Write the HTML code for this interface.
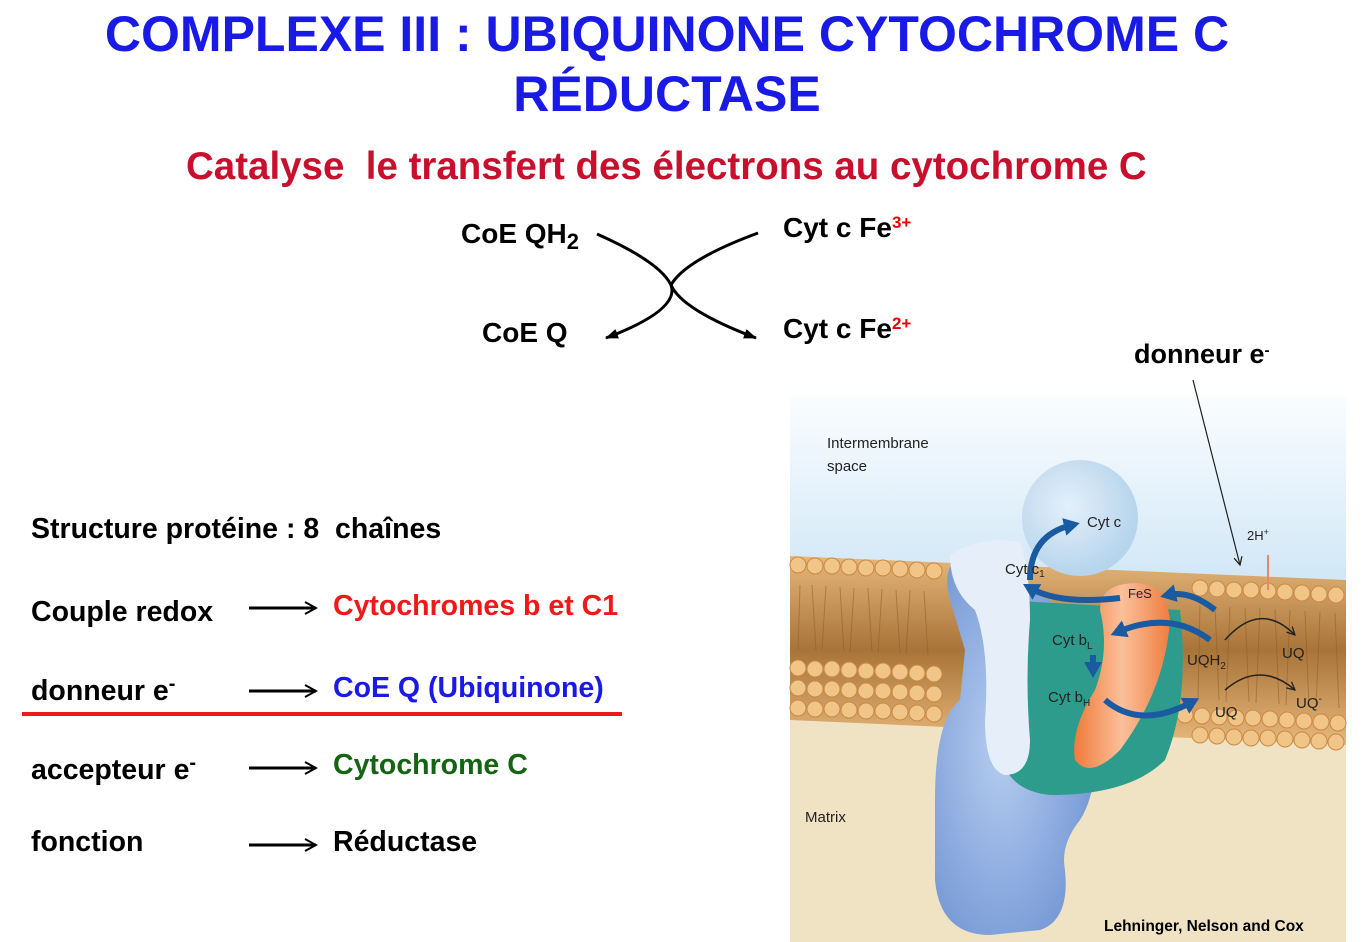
<!DOCTYPE html>
<html><head><meta charset="utf-8"><style>
body{margin:0;width:1362px;height:942px;background:#fff;position:relative;overflow:hidden;font-family:"Liberation Sans",Arial,sans-serif;font-weight:bold}
.a{position:absolute;white-space:nowrap}
</style></head><body>
<div class="a" style="left:0;width:1334px;text-align:center;top:4px;font-size:50px;color:#1a1ae6;line-height:60px">COMPLEXE III : UBIQUINONE CYTOCHROME C<br>RÉDUCTASE</div>
<div class="a" style="left:186px;top:145px;font-size:38.5px;color:#c8102e">Catalyse&nbsp; le transfert des électrons au cytochrome C</div>
<div class="a" style="left:461px;top:218px;font-size:28px">CoE QH<sub style="font-size:22px;vertical-align:-6px">2</sub></div>
<div class="a" style="left:482px;top:317px;font-size:28px">CoE Q</div>
<div class="a" style="left:783px;top:212px;font-size:28px">Cyt c Fe<sup style="font-size:17px;color:#e00;vertical-align:9px">3+</sup></div>
<div class="a" style="left:783px;top:313px;font-size:28px">Cyt c Fe<sup style="font-size:17px;color:#e00;vertical-align:9px">2+</sup></div>
<div class="a" style="left:1134px;top:339px;font-size:27px">donneur e<sup style="font-size:15px;vertical-align:8px">-</sup></div>
<svg class="a" style="left:0;top:0" width="1362" height="942">
<defs><marker id="ar" markerUnits="userSpaceOnUse" markerWidth="14" markerHeight="14" refX="12" refY="7" orient="auto"><path d="M0,2 L13,7 L0,12 Z" fill="#000"/></marker></defs>
<path d="M597,234 Q660,262 671,285 Q680,310 606,338" stroke="#000" stroke-width="3" fill="none" marker-end="url(#ar)"/>
<path d="M758,233 Q685,260 671,285 Q682,310 756,338" stroke="#000" stroke-width="3" fill="none" marker-end="url(#ar)"/>
</svg>
<div class="a" style="left:31px;top:513px;font-size:28.5px">Structure protéine : 8&nbsp; chaînes</div>
<div class="a" style="left:31px;top:596px;font-size:28.5px">Couple redox</div>
<div class="a" style="left:31px;top:673px;font-size:28.5px">donneur e<sup style="font-size:20px;vertical-align:10px">-</sup></div>
<div class="a" style="left:31px;top:752px;font-size:28.5px">accepteur e<sup style="font-size:20px;vertical-align:10px">-</sup></div>
<div class="a" style="left:31px;top:826px;font-size:28.5px">fonction</div>
<div class="a" style="left:333px;top:590px;font-size:28.5px;color:#f01818">Cytochromes b et C1</div>
<div class="a" style="left:333px;top:672px;font-size:28.5px;color:#1a1ae6">CoE Q (Ubiquinone)</div>
<div class="a" style="left:333px;top:749px;font-size:28.5px;color:#146414">Cytochrome C</div>
<div class="a" style="left:333px;top:826px;font-size:28.5px">Réductase</div>
<div class="a" style="left:22px;top:712px;width:600px;height:4px;background:#f01818"></div>
<svg class="a" style="left:0;top:0" width="1362" height="942">
<defs>
<marker id="ar2" markerUnits="userSpaceOnUse" markerWidth="14" markerHeight="14" refX="12" refY="7" orient="auto"><path d="M1,1 L12,7 L1,13" stroke="#000" stroke-width="2" fill="none"/></marker>
<marker id="ar3" markerUnits="userSpaceOnUse" markerWidth="10" markerHeight="10" refX="9" refY="5" orient="auto"><path d="M1,1 L9,5 L1,9" stroke="#222" stroke-width="1.3" fill="none"/></marker>
<marker id="bl" markerUnits="userSpaceOnUse" markerWidth="18" markerHeight="18" refX="8" refY="9" orient="auto"><path d="M0,0 L16,9 L0,18 Z" fill="#1a5aa0"/></marker>
<linearGradient id="sky" x1="0" y1="0" x2="0" y2="1"><stop offset="0" stop-color="#fbfdff"/><stop offset="1" stop-color="#7fbde6"/></linearGradient>
<linearGradient id="mem" x1="0" y1="0" x2="0" y2="1"><stop offset="0" stop-color="#e6b67a"/><stop offset="0.5" stop-color="#a87438"/><stop offset="1" stop-color="#e8b87c"/></linearGradient>
<radialGradient id="body" cx="0.4" cy="0.5" r="0.7"><stop offset="0" stop-color="#b6cdf0"/><stop offset="1" stop-color="#6a8fd0"/></radialGradient>
<radialGradient id="cytc" cx="0.4" cy="0.4" r="0.6"><stop offset="0" stop-color="#e4f0fa"/><stop offset="1" stop-color="#b6d4ec"/></radialGradient>
<linearGradient id="or" x1="0" y1="0" x2="1" y2="0"><stop offset="0" stop-color="#f07a3a"/><stop offset="0.5" stop-color="#fbc09a"/><stop offset="1" stop-color="#ef7d40"/></linearGradient>
</defs>
<g stroke-width="3" stroke="#000">
<line x1="249" y1="608" x2="316" y2="608" marker-end="url(#ar2)"/>
<line x1="249" y1="691" x2="316" y2="691" marker-end="url(#ar2)"/>
<line x1="249" y1="768" x2="316" y2="768" marker-end="url(#ar2)"/>
<line x1="249" y1="845" x2="316" y2="845" marker-end="url(#ar2)"/>
</g>
<rect x="790" y="395" width="556" height="547" fill="url(#sky)"/>
<rect x="790" y="700" width="556" height="242" fill="#efe3c4"/>
<path d="M790,556 L1346,580 L1346,745 L790,720 Z" fill="url(#mem)"/>
<g stroke="#8a5a2a" stroke-width="1" opacity="0.5">
<path d="M800,585 L798,650 M812,585 L816,650 M826,586 L822,650 M840,587 L844,651 M854,588 L850,652 M868,588 L872,652 M882,589 L878,653 M896,590 L900,654 M910,590 L906,654 M924,591 L928,655 M1200,605 L1198,700 M1215,606 L1219,700 M1230,607 L1226,702 M1245,608 L1249,702 M1260,608 L1256,703 M1275,609 L1279,704 M1290,610 L1286,705 M1305,611 L1309,706 M1320,612 L1316,707 M1335,613 L1339,708"/>
</g>
<g fill="#f1c487" stroke="#c98a45" stroke-width="1">
<circle cx="798" cy="565" r="8"/><circle cx="815" cy="566" r="8"/><circle cx="832" cy="566" r="8"/><circle cx="849" cy="567" r="8"/><circle cx="866" cy="568" r="8"/><circle cx="883" cy="568" r="8"/><circle cx="900" cy="569" r="8"/><circle cx="917" cy="570" r="8"/><circle cx="934" cy="571" r="8"/>
<circle cx="1200" cy="588" r="8"/><circle cx="1217" cy="589" r="8"/><circle cx="1234" cy="590" r="8"/><circle cx="1251" cy="590" r="8"/><circle cx="1268" cy="591" r="8"/><circle cx="1285" cy="592" r="8"/><circle cx="1302" cy="593" r="8"/><circle cx="1319" cy="594" r="8"/><circle cx="1336" cy="595" r="8"/>
<circle cx="798" cy="668" r="8"/><circle cx="815" cy="669" r="8"/><circle cx="832" cy="669" r="8"/><circle cx="849" cy="670" r="8"/><circle cx="866" cy="671" r="8"/><circle cx="883" cy="671" r="8"/><circle cx="900" cy="672" r="8"/><circle cx="917" cy="673" r="8"/><circle cx="934" cy="674" r="8"/>
<circle cx="798" cy="688" r="8"/><circle cx="815" cy="689" r="8"/><circle cx="832" cy="689" r="8"/><circle cx="849" cy="690" r="8"/><circle cx="866" cy="691" r="8"/><circle cx="883" cy="691" r="8"/><circle cx="900" cy="692" r="8"/><circle cx="917" cy="693" r="8"/><circle cx="934" cy="694" r="8"/>
<circle cx="798" cy="708" r="8"/><circle cx="815" cy="709" r="8"/><circle cx="832" cy="709" r="8"/><circle cx="849" cy="710" r="8"/><circle cx="866" cy="711" r="8"/><circle cx="883" cy="711" r="8"/><circle cx="900" cy="712" r="8"/><circle cx="917" cy="713" r="8"/><circle cx="934" cy="714" r="8"/>
<circle cx="1185" cy="715" r="8"/><circle cx="1202" cy="716" r="8"/><circle cx="1219" cy="717" r="8"/><circle cx="1236" cy="718" r="8"/><circle cx="1253" cy="718" r="8"/><circle cx="1270" cy="719" r="8"/><circle cx="1287" cy="720" r="8"/><circle cx="1304" cy="721" r="8"/><circle cx="1321" cy="722" r="8"/><circle cx="1338" cy="723" r="8"/>
<circle cx="1200" cy="735" r="8"/><circle cx="1217" cy="736" r="8"/><circle cx="1234" cy="737" r="8"/><circle cx="1251" cy="738" r="8"/><circle cx="1268" cy="738" r="8"/><circle cx="1285" cy="739" r="8"/><circle cx="1302" cy="740" r="8"/><circle cx="1319" cy="741" r="8"/><circle cx="1336" cy="742" r="8"/>
</g>
<path d="M965,560 Q940,560 950,600 L965,650 L960,700 Q935,720 935,800 L935,880 Q940,935 990,935 L1040,930 Q1070,920 1065,870 Q1060,845 1080,820 Q1100,790 1100,700 L1090,620 Z" fill="url(#body)"/>
<path d="M1000,600 L1180,610 Q1190,700 1165,760 Q1130,795 1050,795 Q1000,790 1000,740 Z" fill="#2e9c8c"/>
<circle cx="1080" cy="518" r="58" fill="url(#cytc)"/>
<path d="M1120,585 Q1165,575 1170,620 Q1165,690 1120,750 Q1090,780 1075,760 Q1070,730 1095,690 Q1110,650 1100,610 Q1100,590 1120,585 Z" fill="url(#or)"/>
<path d="M950,555 Q980,535 1020,542 Q1030,570 1030,620 Q1025,680 1030,740 Q1030,775 1005,775 Q985,770 985,720 Q990,650 975,610 Q950,590 950,555 Z" fill="#e6eef9"/>
<g fill="none" stroke="#1a5aa0" stroke-width="6">
<path d="M1030,580 Q1030,535 1072,525" marker-end="url(#bl)"/>
<path d="M1120,598 Q1060,605 1030,588" marker-end="url(#bl)"/>
<path d="M1215,610 Q1190,590 1168,595" marker-end="url(#bl)"/>
<path d="M1210,640 Q1170,610 1118,632" marker-end="url(#bl)"/>
<path d="M1105,700 Q1140,730 1192,702" marker-end="url(#bl)"/>
<path d="M1093,655 L1093,670" marker-end="url(#bl)"/>
</g>
<line x1="1193" y1="380" x2="1240" y2="565" stroke="#222" stroke-width="1.2" marker-end="url(#ar3)"/>
<line x1="1268" y1="590" x2="1268" y2="555" stroke="#e8866a" stroke-width="2"/>
<g fill="none" stroke="#222" stroke-width="1.5"><path d="M1225,640 Q1260,600 1295,635" marker-end="url(#ar3)"/><path d="M1225,690 Q1260,660 1295,690" marker-end="url(#ar3)"/></g>
<g font-family="Liberation Sans,Arial,sans-serif" font-weight="normal" font-size="15" fill="#222">
<text x="827" y="448">Intermembrane</text><text x="827" y="471">space</text>
<text x="1087" y="527">Cyt c</text><text x="1005" y="574">Cyt c<tspan font-size="10" dy="3">1</tspan></text>
<text x="1128" y="598" font-size="13">FeS</text>
<text x="1052" y="645">Cyt b<tspan font-size="10" dy="4">L</tspan></text>
<text x="1048" y="702">Cyt b<tspan font-size="10" dy="4">H</tspan></text>
<text x="1187" y="665">UQH<tspan font-size="10" dy="4">2</tspan></text>
<text x="1282" y="658">UQ</text><text x="1215" y="717">UQ</text><text x="1296" y="708">UQ<tspan font-size="10" dy="-6">-</tspan></text>
<text x="1247" y="540" font-size="13">2H<tspan font-size="9" dy="-5">+</tspan></text>
<text x="805" y="822">Matrix</text>
<text x="1104" y="931" font-weight="bold" fill="#000" font-size="15.5">Lehninger, Nelson and Cox</text>
</g>
</svg>
</body></html>
